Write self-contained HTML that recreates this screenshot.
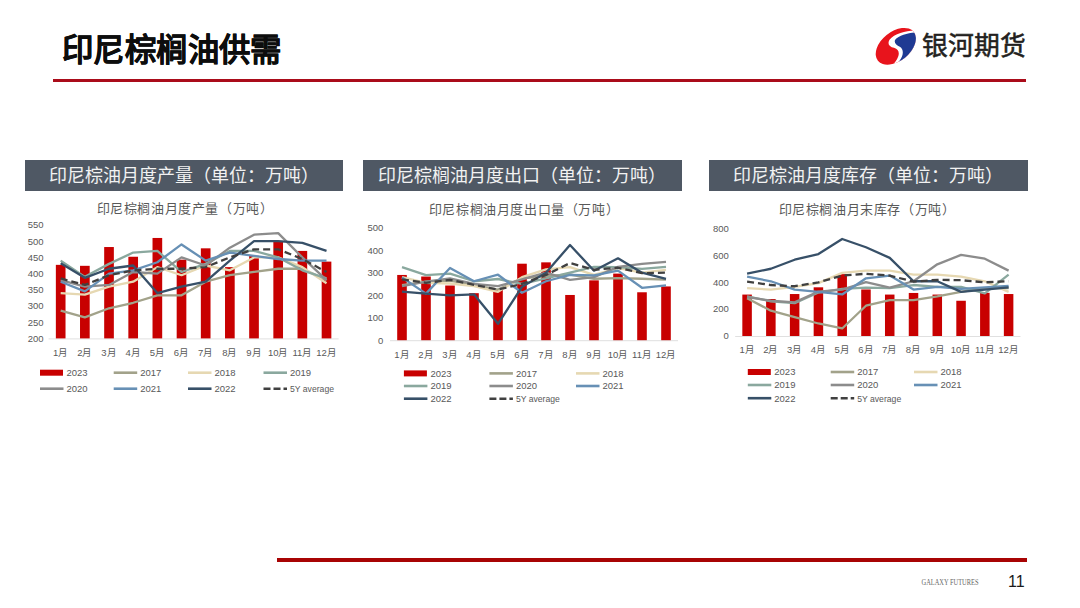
<!DOCTYPE html>
<html lang="zh-CN"><head><meta charset="utf-8">
<style>
html,body{margin:0;padding:0;background:#fff;}
body{width:1080px;height:608px;overflow:hidden;position:relative;font-family:"Liberation Sans",sans-serif;}
.abs{position:absolute;}
.title{left:62px;top:30.5px;letter-spacing:0.4px;font-size:31.4px;font-weight:bold;color:#0D0D0D;-webkit-text-stroke:0.3px #0D0D0D;white-space:nowrap;line-height:40px;}
.hbox{position:absolute;top:160px;height:31px;background:#4F5864;color:#F2F2F2;font-size:18px;line-height:31px;white-space:nowrap;}
svg text{font-family:"Liberation Sans",sans-serif;}
.ct{font-size:13px;letter-spacing:0.6px;fill:#595959;}
.yl{font-size:9.5px;fill:#595959;}
.xl{font-size:9.5px;fill:#595959;}
.lg{font-size:9.5px;fill:#595959;}
</style></head><body>
<div class="abs title">印尼棕榈油供需</div>
<div class="abs" style="left:53px;top:78.6px;width:973px;height:3.3px;background:#AA0C1A;"></div>
<svg class="abs" style="left:870px;top:24px" width="52" height="44" viewBox="0 0 52 44">
 <defs><clipPath id="lc"><ellipse cx="25.8" cy="22.3" rx="23" ry="14.6" transform="rotate(-39 25.8 22.3)"/></clipPath></defs>
 <g clip-path="url(#lc)">
  <rect x="0" y="0" width="52" height="44" fill="#E8141C"/>
  <path d="M44,6.6 C36,6.8 24,10 19.5,15.8 C17,20 19.5,22.6 24,23.8 C28.5,25 29.6,28.5 28.2,32.5 C26.8,36.5 24,39.5 21.5,42 L60,42 L60,0 Z" fill="#fff"/>
  <path d="M45,8.4 C37.5,9 28.5,11.5 25.2,15.8 C23.6,18.8 26.5,21 29.8,22.8 C33,24.8 33.5,28.8 32,32.4 C30.5,36 27.8,38.8 25,42 L60,42 L60,0 Z" fill="#1F3A93"/>
 </g>
</svg>
<div class="abs" style="left:922px;top:29.5px;font-size:25.8px;-webkit-text-stroke:0.55px #231F20;line-height:32px;color:#231F20;white-space:nowrap;">银河期货</div>
<div class="hbox" style="left:25px;width:318px;"><span style="position:absolute;left:24px;top:1px;">印尼棕油月度产量（单位：万吨）</span></div>
<div class="hbox" style="left:363px;width:319px;"><span style="position:absolute;left:15px;top:1px;">印尼棕榈油月度出口（单位：万吨）</span></div>
<div class="hbox" style="left:709px;width:319px;"><span style="position:absolute;left:24px;top:1px;">印尼棕油月度库存（单位：万吨）</span></div>
<svg class="abs" style="left:0;top:0" width="1080" height="608" viewBox="0 0 1080 608">
<text x="185" y="213.1" text-anchor="middle" class="ct">印尼棕榈油月度产量（万吨）</text>
<text x="43.5" y="341.7" text-anchor="end" class="yl">200</text>
<text x="43.5" y="325.5" text-anchor="end" class="yl">250</text>
<text x="43.5" y="309.3" text-anchor="end" class="yl">300</text>
<text x="43.5" y="293.1" text-anchor="end" class="yl">350</text>
<text x="43.5" y="276.9" text-anchor="end" class="yl">400</text>
<text x="43.5" y="260.7" text-anchor="end" class="yl">450</text>
<text x="43.5" y="244.5" text-anchor="end" class="yl">500</text>
<text x="43.5" y="228.3" text-anchor="end" class="yl">550</text>
<line x1="48.6" y1="338.9" x2="338.6" y2="338.9" stroke="#DCDCDC" stroke-width="0.9"/>
<rect x="55.85" y="264.85" width="9.67" height="73.55" fill="#C80000"/>
<rect x="80.02" y="265.82" width="9.67" height="72.58" fill="#C80000"/>
<rect x="104.18" y="247.03" width="9.67" height="91.37" fill="#C80000"/>
<rect x="128.35" y="256.75" width="9.67" height="81.65" fill="#C80000"/>
<rect x="152.52" y="237.96" width="9.67" height="100.44" fill="#C80000"/>
<rect x="176.68" y="259.67" width="9.67" height="78.73" fill="#C80000"/>
<rect x="200.85" y="248.33" width="9.67" height="90.07" fill="#C80000"/>
<rect x="225.02" y="267.12" width="9.67" height="71.28" fill="#C80000"/>
<rect x="249.18" y="255.78" width="9.67" height="82.62" fill="#C80000"/>
<rect x="273.35" y="241.20" width="9.67" height="97.20" fill="#C80000"/>
<rect x="297.52" y="250.92" width="9.67" height="87.48" fill="#C80000"/>
<rect x="321.68" y="261.61" width="9.67" height="76.79" fill="#C80000"/>
<polyline points="60.68,310.54 84.85,317.34 109.02,308.27 133.18,302.76 157.35,295.31 181.52,295.31 205.68,281.70 229.85,275.22 254.02,271.98 278.18,268.74 302.35,268.74 326.52,280.08" fill="none" stroke="#A2A28A" stroke-width="2.3" stroke-linejoin="round"/>
<polyline points="60.68,293.04 84.85,294.66 109.02,286.56 133.18,281.70 157.35,267.12 181.52,275.22 205.68,265.50 229.85,270.36 254.02,257.40 278.18,257.40 302.35,267.12 326.52,283.32" fill="none" stroke="#E6D8B2" stroke-width="2.3" stroke-linejoin="round"/>
<polyline points="60.68,260.64 84.85,276.84 109.02,263.88 133.18,252.54 157.35,250.92 181.52,271.98 205.68,263.88 229.85,250.92 254.02,250.92 278.18,257.40 302.35,270.36 326.52,278.46" fill="none" stroke="#8AA89E" stroke-width="2.3" stroke-linejoin="round"/>
<polyline points="60.68,280.08 84.85,286.56 109.02,284.94 133.18,271.98 157.35,273.60 181.52,257.40 205.68,265.50 229.85,247.68 254.02,234.72 278.18,233.10 302.35,257.40 326.52,280.08" fill="none" stroke="#8C8C8C" stroke-width="2.3" stroke-linejoin="round"/>
<polyline points="60.68,281.70 84.85,291.42 109.02,273.60 133.18,270.36 157.35,262.26 181.52,244.44 205.68,260.64 229.85,252.54 254.02,255.78 278.18,259.02 302.35,260.64 326.52,260.64" fill="none" stroke="#6790B5" stroke-width="2.3" stroke-linejoin="round"/>
<polyline points="60.68,263.23 84.85,277.81 109.02,268.74 133.18,265.50 157.35,293.04 181.52,286.56 205.68,281.70 229.85,260.64 254.02,241.20 278.18,241.20 302.35,242.82 326.52,250.92" fill="none" stroke="#375068" stroke-width="2.3" stroke-linejoin="round"/>
<polyline points="60.68,278.46 84.85,284.94 109.02,275.22 133.18,270.36 157.35,268.74 181.52,268.74 205.68,267.12 229.85,257.40 254.02,249.30 278.18,249.30 302.35,259.02 326.52,271.98" fill="none" stroke="#404040" stroke-width="2.3" stroke-linejoin="round" stroke-dasharray="7,4"/>
<text x="60.68" y="356.0" text-anchor="middle" class="xl">1月</text>
<text x="84.85" y="356.0" text-anchor="middle" class="xl">2月</text>
<text x="109.02" y="356.0" text-anchor="middle" class="xl">3月</text>
<text x="133.18" y="356.0" text-anchor="middle" class="xl">4月</text>
<text x="157.35" y="356.0" text-anchor="middle" class="xl">5月</text>
<text x="181.52" y="356.0" text-anchor="middle" class="xl">6月</text>
<text x="205.68" y="356.0" text-anchor="middle" class="xl">7月</text>
<text x="229.85" y="356.0" text-anchor="middle" class="xl">8月</text>
<text x="254.02" y="356.0" text-anchor="middle" class="xl">9月</text>
<text x="278.18" y="356.0" text-anchor="middle" class="xl">10月</text>
<text x="302.35" y="356.0" text-anchor="middle" class="xl">11月</text>
<text x="326.52" y="356.0" text-anchor="middle" class="xl">12月</text>
<rect x="40" y="369.7" width="23" height="6" fill="#C80000"/>
<text x="66.5" y="376.0" class="lg">2023</text>
<line x1="113.7" y1="372.7" x2="137.2" y2="372.7" stroke="#A2A28A" stroke-width="2.6"/>
<text x="140.2" y="376.0" class="lg">2017</text>
<line x1="188" y1="372.7" x2="211.5" y2="372.7" stroke="#E6D8B2" stroke-width="2.6"/>
<text x="214.5" y="376.0" class="lg">2018</text>
<line x1="263.5" y1="372.7" x2="287.0" y2="372.7" stroke="#8AA89E" stroke-width="2.6"/>
<text x="290.0" y="376.0" class="lg">2019</text>
<line x1="40" y1="388.7" x2="63.5" y2="388.7" stroke="#8C8C8C" stroke-width="2.6"/>
<text x="66.5" y="392.0" class="lg">2020</text>
<line x1="113.7" y1="388.7" x2="137.2" y2="388.7" stroke="#6790B5" stroke-width="2.6"/>
<text x="140.2" y="392.0" class="lg">2021</text>
<line x1="188" y1="388.7" x2="211.5" y2="388.7" stroke="#375068" stroke-width="2.6"/>
<text x="214.5" y="392.0" class="lg">2022</text>
<line x1="263.5" y1="388.7" x2="287.0" y2="388.7" stroke="#404040" stroke-width="2.6" stroke-dasharray="7,3"/>
<text x="290.0" y="392.0" class="lg" textLength="44" lengthAdjust="spacingAndGlyphs">5Y average</text>
<text x="524" y="213.6" text-anchor="middle" class="ct">印尼棕榈油月度出口量（万吨）</text>
<text x="383.3" y="343.5" text-anchor="end" class="yl">0</text>
<text x="383.3" y="321.0" text-anchor="end" class="yl">100</text>
<text x="383.3" y="298.5" text-anchor="end" class="yl">200</text>
<text x="383.3" y="276.0" text-anchor="end" class="yl">300</text>
<text x="383.3" y="253.5" text-anchor="end" class="yl">400</text>
<text x="383.3" y="231.0" text-anchor="end" class="yl">500</text>
<line x1="390.0" y1="340.7" x2="678.0" y2="340.7" stroke="#DCDCDC" stroke-width="0.9"/>
<rect x="397.20" y="274.95" width="9.60" height="65.25" fill="#C80000"/>
<rect x="421.20" y="276.52" width="9.60" height="63.68" fill="#C80000"/>
<rect x="445.20" y="285.52" width="9.60" height="54.68" fill="#C80000"/>
<rect x="469.20" y="293.18" width="9.60" height="47.02" fill="#C80000"/>
<rect x="493.20" y="289.12" width="9.60" height="51.07" fill="#C80000"/>
<rect x="517.20" y="263.70" width="9.60" height="76.50" fill="#C80000"/>
<rect x="541.20" y="262.35" width="9.60" height="77.85" fill="#C80000"/>
<rect x="565.20" y="294.97" width="9.60" height="45.23" fill="#C80000"/>
<rect x="589.20" y="280.35" width="9.60" height="59.85" fill="#C80000"/>
<rect x="613.20" y="273.60" width="9.60" height="66.60" fill="#C80000"/>
<rect x="637.20" y="292.27" width="9.60" height="47.93" fill="#C80000"/>
<rect x="661.20" y="286.43" width="9.60" height="53.77" fill="#C80000"/>
<polyline points="402.00,285.07 426.00,281.70 450.00,280.57 474.00,285.07 498.00,289.57 522.00,278.32 546.00,276.07 570.00,274.50 594.00,278.77 618.00,278.10 642.00,278.77 666.00,279.68" fill="none" stroke="#A2A28A" stroke-width="2.3" stroke-linejoin="round"/>
<polyline points="402.00,277.20 426.00,282.82 450.00,283.50 474.00,286.20 498.00,291.82 522.00,277.20 546.00,269.32 570.00,267.07 594.00,274.95 618.00,268.20 642.00,272.70 666.00,269.77" fill="none" stroke="#E6D8B2" stroke-width="2.3" stroke-linejoin="round"/>
<polyline points="402.00,267.07 426.00,275.17 450.00,273.60 474.00,281.25 498.00,279.00 522.00,283.95 546.00,278.32 570.00,272.70 594.00,266.85 618.00,267.07 642.00,268.88 666.00,266.85" fill="none" stroke="#8AA89E" stroke-width="2.3" stroke-linejoin="round"/>
<polyline points="402.00,286.20 426.00,281.70 450.00,278.32 474.00,283.95 498.00,286.20 522.00,279.45 546.00,272.70 570.00,279.90 594.00,277.20 618.00,266.85 642.00,263.92 666.00,261.90" fill="none" stroke="#8C8C8C" stroke-width="2.3" stroke-linejoin="round"/>
<polyline points="402.00,277.43 426.00,293.62 450.00,267.97 474.00,281.25 498.00,274.72 522.00,292.72 546.00,281.25 570.00,274.95 594.00,275.40 618.00,270.67 642.00,287.77 666.00,285.30" fill="none" stroke="#6790B5" stroke-width="2.3" stroke-linejoin="round"/>
<polyline points="402.00,291.60 426.00,293.62 450.00,295.43 474.00,294.30 498.00,323.77 522.00,286.88 546.00,272.70 570.00,245.02 594.00,270.67 618.00,258.30 642.00,272.70 666.00,278.77" fill="none" stroke="#375068" stroke-width="2.3" stroke-linejoin="round"/>
<polyline points="402.00,279.45 426.00,282.82 450.00,279.90 474.00,284.85 498.00,289.57 522.00,283.95 546.00,274.95 570.00,263.02 594.00,269.77 618.00,267.75 642.00,273.15 666.00,272.70" fill="none" stroke="#404040" stroke-width="2.3" stroke-linejoin="round" stroke-dasharray="7,4"/>
<text x="402.00" y="358.0" text-anchor="middle" class="xl">1月</text>
<text x="426.00" y="358.0" text-anchor="middle" class="xl">2月</text>
<text x="450.00" y="358.0" text-anchor="middle" class="xl">3月</text>
<text x="474.00" y="358.0" text-anchor="middle" class="xl">4月</text>
<text x="498.00" y="358.0" text-anchor="middle" class="xl">5月</text>
<text x="522.00" y="358.0" text-anchor="middle" class="xl">6月</text>
<text x="546.00" y="358.0" text-anchor="middle" class="xl">7月</text>
<text x="570.00" y="358.0" text-anchor="middle" class="xl">8月</text>
<text x="594.00" y="358.0" text-anchor="middle" class="xl">9月</text>
<text x="618.00" y="358.0" text-anchor="middle" class="xl">10月</text>
<text x="642.00" y="358.0" text-anchor="middle" class="xl">11月</text>
<text x="666.00" y="358.0" text-anchor="middle" class="xl">12月</text>
<rect x="403.9" y="370.4" width="23" height="6" fill="#C80000"/>
<text x="430.4" y="376.7" class="lg">2023</text>
<line x1="489.4" y1="373.4" x2="512.9" y2="373.4" stroke="#A2A28A" stroke-width="2.6"/>
<text x="515.9" y="376.7" class="lg">2017</text>
<line x1="576" y1="373.4" x2="599.5" y2="373.4" stroke="#E6D8B2" stroke-width="2.6"/>
<text x="602.5" y="376.7" class="lg">2018</text>
<line x1="403.9" y1="386" x2="427.4" y2="386" stroke="#8AA89E" stroke-width="2.6"/>
<text x="430.4" y="389.3" class="lg">2019</text>
<line x1="489.4" y1="386" x2="512.9" y2="386" stroke="#8C8C8C" stroke-width="2.6"/>
<text x="515.9" y="389.3" class="lg">2020</text>
<line x1="576" y1="386" x2="599.5" y2="386" stroke="#6790B5" stroke-width="2.6"/>
<text x="602.5" y="389.3" class="lg">2021</text>
<line x1="403.9" y1="398.7" x2="427.4" y2="398.7" stroke="#375068" stroke-width="2.6"/>
<text x="430.4" y="402.0" class="lg">2022</text>
<line x1="489.4" y1="398.7" x2="512.9" y2="398.7" stroke="#404040" stroke-width="2.6" stroke-dasharray="7,3"/>
<text x="515.9" y="402.0" class="lg" textLength="44" lengthAdjust="spacingAndGlyphs">5Y average</text>
<text x="867" y="213.6" text-anchor="middle" class="ct">印尼棕榈油月末库存（万吨）</text>
<text x="728.8" y="339.3" text-anchor="end" class="yl">0</text>
<text x="728.8" y="312.4" text-anchor="end" class="yl">200</text>
<text x="728.8" y="285.5" text-anchor="end" class="yl">400</text>
<text x="728.8" y="258.6" text-anchor="end" class="yl">600</text>
<text x="728.8" y="231.7" text-anchor="end" class="yl">800</text>
<line x1="735.2" y1="336.5" x2="1020.5" y2="336.5" stroke="#DCDCDC" stroke-width="0.9"/>
<rect x="742.33" y="294.57" width="9.51" height="41.43" fill="#C80000"/>
<rect x="766.11" y="299.01" width="9.51" height="36.99" fill="#C80000"/>
<rect x="789.88" y="294.04" width="9.51" height="41.96" fill="#C80000"/>
<rect x="813.66" y="287.31" width="9.51" height="48.69" fill="#C80000"/>
<rect x="837.43" y="274.13" width="9.51" height="61.87" fill="#C80000"/>
<rect x="861.21" y="289.46" width="9.51" height="46.54" fill="#C80000"/>
<rect x="884.98" y="294.57" width="9.51" height="41.43" fill="#C80000"/>
<rect x="908.76" y="292.96" width="9.51" height="43.04" fill="#C80000"/>
<rect x="932.53" y="294.57" width="9.51" height="41.43" fill="#C80000"/>
<rect x="956.31" y="300.76" width="9.51" height="35.24" fill="#C80000"/>
<rect x="980.08" y="292.83" width="9.51" height="43.17" fill="#C80000"/>
<rect x="1003.86" y="294.04" width="9.51" height="41.96" fill="#C80000"/>
<polyline points="747.09,298.21 770.86,310.71 794.64,317.17 818.41,323.49 842.19,328.47 865.96,305.74 889.74,300.09 913.51,300.09 937.29,296.32 961.06,291.88 984.84,288.12 1008.61,288.12" fill="none" stroke="#A2A28A" stroke-width="2.3" stroke-linejoin="round"/>
<polyline points="747.09,288.12 770.86,289.60 794.64,286.91 818.41,283.14 842.19,272.92 865.96,270.63 889.74,270.63 913.51,274.53 937.29,274.53 961.06,276.69 984.84,281.26 1008.61,291.88" fill="none" stroke="#E6D8B2" stroke-width="2.3" stroke-linejoin="round"/>
<polyline points="747.09,296.32 770.86,301.30 794.64,303.18 818.41,292.56 842.19,288.79 865.96,287.58 889.74,288.12 913.51,285.02 937.29,286.91 961.06,286.91 984.84,293.36 1008.61,274.53" fill="none" stroke="#8AA89E" stroke-width="2.3" stroke-linejoin="round"/>
<polyline points="747.09,297.00 770.86,300.76 794.64,302.38 818.41,291.62 842.19,289.60 865.96,282.20 889.74,287.58 913.51,281.26 937.29,264.31 961.06,254.90 984.84,258.66 1008.61,270.63" fill="none" stroke="#8C8C8C" stroke-width="2.3" stroke-linejoin="round"/>
<polyline points="747.09,276.69 770.86,281.26 794.64,289.60 818.41,291.88 842.19,294.44 865.96,278.30 889.74,275.61 913.51,289.60 937.29,286.91 961.06,288.79 984.84,287.45 1008.61,285.97" fill="none" stroke="#6790B5" stroke-width="2.3" stroke-linejoin="round"/>
<polyline points="747.09,273.73 770.86,268.75 794.64,259.74 818.41,254.09 842.19,239.03 865.96,247.23 889.74,257.86 913.51,281.26 937.29,281.26 961.06,291.88 984.84,289.60 1008.61,287.31" fill="none" stroke="#375068" stroke-width="2.3" stroke-linejoin="round"/>
<polyline points="747.09,281.66 770.86,285.02 794.64,286.24 818.41,282.33 842.19,275.61 865.96,273.73 889.74,275.61 913.51,281.66 937.29,279.78 961.06,280.18 984.84,282.33 1008.61,281.26" fill="none" stroke="#404040" stroke-width="2.3" stroke-linejoin="round" stroke-dasharray="7,4"/>
<text x="747.09" y="353.3" text-anchor="middle" class="xl">1月</text>
<text x="770.86" y="353.3" text-anchor="middle" class="xl">2月</text>
<text x="794.64" y="353.3" text-anchor="middle" class="xl">3月</text>
<text x="818.41" y="353.3" text-anchor="middle" class="xl">4月</text>
<text x="842.19" y="353.3" text-anchor="middle" class="xl">5月</text>
<text x="865.96" y="353.3" text-anchor="middle" class="xl">6月</text>
<text x="889.74" y="353.3" text-anchor="middle" class="xl">7月</text>
<text x="913.51" y="353.3" text-anchor="middle" class="xl">8月</text>
<text x="937.29" y="353.3" text-anchor="middle" class="xl">9月</text>
<text x="961.06" y="353.3" text-anchor="middle" class="xl">10月</text>
<text x="984.84" y="353.3" text-anchor="middle" class="xl">11月</text>
<text x="1008.61" y="353.3" text-anchor="middle" class="xl">12月</text>
<rect x="747.8" y="369" width="23" height="6" fill="#C80000"/>
<text x="774.3" y="375.3" class="lg">2023</text>
<line x1="830.7" y1="372" x2="854.2" y2="372" stroke="#A2A28A" stroke-width="2.6"/>
<text x="857.2" y="375.3" class="lg">2017</text>
<line x1="914" y1="372" x2="937.5" y2="372" stroke="#E6D8B2" stroke-width="2.6"/>
<text x="940.5" y="375.3" class="lg">2018</text>
<line x1="747.8" y1="385" x2="771.3" y2="385" stroke="#8AA89E" stroke-width="2.6"/>
<text x="774.3" y="388.3" class="lg">2019</text>
<line x1="830.7" y1="385" x2="854.2" y2="385" stroke="#8C8C8C" stroke-width="2.6"/>
<text x="857.2" y="388.3" class="lg">2020</text>
<line x1="914" y1="385" x2="937.5" y2="385" stroke="#6790B5" stroke-width="2.6"/>
<text x="940.5" y="388.3" class="lg">2021</text>
<line x1="747.8" y1="398.2" x2="771.3" y2="398.2" stroke="#375068" stroke-width="2.6"/>
<text x="774.3" y="401.5" class="lg">2022</text>
<line x1="830.7" y1="398.2" x2="854.2" y2="398.2" stroke="#404040" stroke-width="2.6" stroke-dasharray="7,3"/>
<text x="857.2" y="401.5" class="lg" textLength="44" lengthAdjust="spacingAndGlyphs">5Y average</text>
</svg>
<div class="abs" style="left:277px;top:558px;width:750px;height:3.6px;background:#A80404;"></div>
<svg class="abs" style="left:918px;top:572px" width="70" height="18" viewBox="0 0 70 18"><text x="3.5" y="13.2" textLength="57" lengthAdjust="spacingAndGlyphs" style="font-family:'Liberation Serif',serif;font-size:7.2px;fill:#666">GALAXY  FUTURES</text></svg>
<div class="abs" style="left:1008px;top:573px;font-size:16px;color:#1A1A1A;line-height:18px;">11</div>
</body></html>
